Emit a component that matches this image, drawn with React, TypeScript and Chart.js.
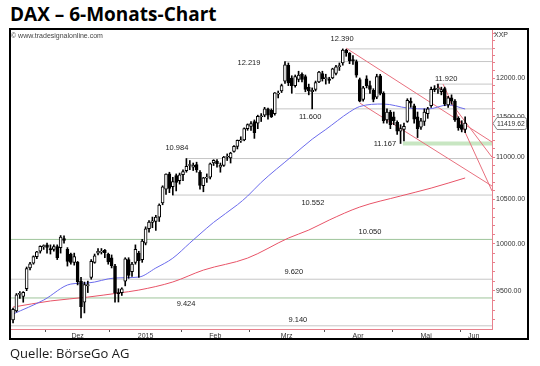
import React, { useEffect, useRef } from 'react';
import { Chart, registerables } from 'chart.js';

Chart.register(...registerables);

// ---- DAX daily candles (index 0 = 17.11.2014 ... 133 = 02.06.2015) ----
const openP = [
  9200, 9290, 9460, 9440, 9520, 9740, 9790, 9860, 9920, 9970,
  9990, 9950, 9940, 9970, 9960, 10060, 9940, 9890, 9800, 9800,
  9600, 9380, 9550, 9640, 9800, 9900, 9910, 9930, 9890, 9850,
  9760, 9480, 9480, 9600, 9830, 9700, 9800, 9900, 9830, 10010,
  10170, 10240, 10250, 10300, 10460, 10620, 10800, 10650, 10780, 10720,
  10790, 10840, 10900, 10880, 10910, 10820, 10660, 10750, 10760, 10930,
  10950, 10880, 10900, 11000, 10990, 11070, 11130, 11200, 11210, 11350,
  11380, 11440, 11420, 11500, 11520, 11600, 11580, 11540, 11790, 11830,
  11960, 12170, 12000, 11900, 11980, 12050, 12020, 11880, 11820, 11850,
  11950, 12060, 11990, 11990, 12000, 12060, 12150, 12200, 12370, 12330,
  12240, 12220, 11980, 11720, 11990, 11900, 11840, 11750, 12030, 11800,
  11460, 11560, 11500, 11430, 11320, 11340, 11440, 11700, 11640, 11500,
  11370, 11440, 11540, 11640, 11860, 11850, 11820, 11860, 11650, 11740,
  11700, 11480, 11400, 11340,
];
const highP = [
  9320, 9470, 9490, 9490, 9750, 9800, 9870, 9920, 9980, 9990,
  10010, 9990, 9990, 9990, 10093, 10090, 9960, 9900, 9900, 9810,
  9640, 9590, 9600, 9830, 9890, 9950, 9950, 9940, 9900, 9880,
  9780, 9520, 9530, 9850, 9850, 9800, 9990, 9920, 10050, 10190,
  10260, 10300, 10320, 10450, 10660, 10800, 10820, 10760, 10800, 10810,
  10850, 10984, 10960, 10930, 10940, 10840, 10760, 10800, 10930, 10970,
  10970, 10930, 11010, 11040, 11060, 11140, 11210, 11250, 11360, 11410,
  11440, 11460, 11520, 11540, 11620, 11610, 11600, 11810, 11830, 11920,
  12219, 12200, 12030, 12040, 12090, 12070, 12040, 11920, 11870, 11960,
  12090, 12090, 12050, 12010, 12130, 12170, 12200, 12390, 12385, 12340,
  12300, 12240, 12000, 11890, 12030, 11960, 11860, 12050, 12050, 11820,
  11600, 11580, 11560, 11450, 11400, 11420, 11730, 11740, 11660, 11560,
  11480, 11600, 11620, 11880, 11900, 11920, 11880, 11880, 11760, 11780,
  11720, 11500, 11450, 11500,
];
const lowP = [
  9170, 9280, 9420, 9380, 9500, 9720, 9780, 9840, 9900, 9940,
  9900, 9890, 9920, 9830, 9900, 10010, 9760, 9780, 9770, 9560,
  9219, 9270, 9480, 9620, 9790, 9880, 9890, 9850, 9780, 9740,
  9380, 9382, 9450, 9550, 9630, 9650, 9780, 9640, 9800, 9990,
  10130, 10180, 10150, 10250, 10440, 10560, 10580, 10552, 10600, 10680,
  10720, 10820, 10850, 10840, 10820, 10620, 10590, 10700, 10740, 10900,
  10880, 10820, 10890, 10960, 10930, 11060, 11100, 11180, 11200, 11330,
  11330, 11230, 11350, 11440, 11500, 11470, 11490, 11520, 11740, 11810,
  11930, 11900, 11800, 11880, 11950, 11950, 11820, 11780, 11600, 11830,
  11940, 11960, 11920, 11930, 11990, 12040, 12100, 12170, 12290, 12190,
  12180, 12010, 11690, 11700, 11870, 11800, 11690, 11730, 11780, 11420,
  11420, 11350, 11400, 11280, 11167, 11200, 11430, 11620, 11420, 11240,
  11340, 11390, 11480, 11620, 11820, 11800, 11780, 11640, 11620, 11660,
  11440, 11330, 11310, 11300,
];
const closeP = [
  9306, 9456, 9472, 9483, 9732, 9785, 9862, 9915, 9974, 9980,
  9963, 9934, 9971, 9851, 10075, 10040, 9810, 9800, 9862, 9594,
  9335, 9563, 9564, 9811, 9870, 9920, 9922, 9905, 9805, 9764,
  9473, 9469, 9518, 9837, 9660, 9781, 9941, 9817, 10032, 10167,
  10242, 10257, 10299, 10435, 10649, 10798, 10628, 10710, 10700, 10790,
  10828, 10891, 10911, 10905, 10846, 10664, 10753, 10752, 10919, 10963,
  10923, 10905, 11001, 11002, 11050, 11131, 11206, 11210, 11350, 11401,
  11413, 11300, 11504, 11510, 11600, 11520, 11500, 11806, 11799, 11901,
  12175, 11935, 11900, 12020, 12040, 11980, 11850, 11830, 11840, 11940,
  12080, 11990, 12005, 11968, 12123, 12150, 12166, 12375, 12338, 12227,
  12231, 12039, 11700, 11870, 11900, 11850, 11720, 12020, 11800, 11450,
  11560, 11400, 11450, 11320, 11350, 11380, 11710, 11674, 11470, 11350,
  11450, 11560, 11600, 11853, 11848, 11864, 11850, 11660, 11740, 11700,
  11460, 11360, 11340, 11419.62,
];
const lastValue = 11419.62;

// ---- moving averages ----
const blueMAIdx = [0, 9, 17, 22, 30, 37, 42, 47, 52, 55, 59, 66, 69, 73, 82, 88, 92, 99, 102, 109, 116, 122, 128, 133];
const blueMAVal = [9259, 9402, 9569, 9580, 9633, 9643, 9739, 9845, 10010, 10110, 10240, 10440, 10540, 10700, 11010, 11220, 11340, 11560, 11630, 11662, 11611, 11598, 11650, 11598];
const redMAIdx = [0, 11, 22, 31, 37, 47, 56, 69, 81, 87, 93, 102, 114, 123, 133];
const redMAVal = [9330, 9393, 9433, 9475, 9506, 9591, 9717, 9846, 10065, 10154, 10266, 10414, 10541, 10633, 10752];

// ---- trend lines ----
const trendStartIdx = [98, 102, 124.7, 126.5];
const trendStartVal = [12400, 11675, 11920, 11920];
const trendEndIdx = [140.9, 140.9, 140.9, 140.9];
const trendEndVal = [11185, 10657, 11000, 10600];

// ---- horizontal levels ----
const levelValues = [12390, 12219, 11920, 11796, 11600, 11167, 10984, 10552, 10050, 9620, 9424, 9140];
const levelStartIdx = [98, 80, 124.7, 83, 76.5, 114.7, 51, 47, -0.6, -0.6, -0.6, -0.6];
const levelLabels = ['12.390', '12.219', '11.920', '', '11.600', '11.167', '10.984', '10.552', '10.050', '9.620', '9.424', '9.140'];
const levelKinds = ['gray', 'gray', 'gray', 'gray', 'gray', 'band', 'gray', 'gray', 'green', 'gray', 'green', 'gray'];

// label placement (layout only)
const levelLabelIdx = [96.8, 69.4, 127.4, 0, 87.4, 109.4, 48.2, 88.2, 105, 82.6, 50.9, 83.8];
const levelLabelDy = [-10, 1.5, -4.7, 0, 8, 0.5, -11, 8, -7, -7.5, 6, -5.5];

// ---- axes ----
const monthTickIdx = [9.5, 28.5, 49.5, 69.5, 91.5, 111.5, 131.5];
const monthLabelIdx = [19, 39, 59.5, 80.5, 101.5, 121.5, 135.5];
const monthLabels = ['Dez', '2015', 'Feb', 'Mrz', 'Apr', 'Mai', 'Jun'];
const yTickValues = [9500, 10000, 10500, 11000, 11500, 12000];

const X_MIN = -0.6;
const X_MAX = 140.9;
const Y_MIN = 9108;
const Y_MAX = 12650;

const FONT = '"Liberation Sans", Arial, sans-serif';
const AXIS_RED = '#e8808c';

const overlayPlugin = {
  id: 'overlay',
  afterDatasetsDraw(chart: any) {
    const { ctx, scales } = chart;
    const x = scales.x;
    const y = scales.y;
    ctx.save();
    ctx.font = `7.5px ${FONT}`;
    ctx.fillStyle = '#222';
    ctx.textAlign = 'center';
    ctx.textBaseline = 'middle';
    levelValues.forEach((v, i) => {
      if (!levelLabels[i]) return;
      ctx.fillText(levelLabels[i], x.getPixelForValue(levelLabelIdx[i]), y.getPixelForValue(v) + levelLabelDy[i]);
    });
    ctx.restore();
  },
  afterDraw(chart: any) {
    const { ctx, scales, chartArea } = chart;
    const y = scales.y;
    ctx.save();
    ctx.font = `7px ${FONT}`;
    ctx.fillStyle = '#333';
    ctx.textAlign = 'left';
    ctx.textBaseline = 'middle';
    ctx.fillText('XXP', chartArea.right + 2, chartArea.top + 5);
    // last value box
    const yy = Math.round(y.getPixelForValue(lastValue)) + 0.5;
    const l = chartArea.right + 1;
    const r = chartArea.right + 34.5;
    ctx.beginPath();
    ctx.moveTo(l, yy);
    ctx.lineTo(l + 4, yy - 6);
    ctx.lineTo(r - 2, yy - 6);
    ctx.quadraticCurveTo(r, yy - 6, r, yy - 4);
    ctx.lineTo(r, yy + 4);
    ctx.quadraticCurveTo(r, yy + 6, r - 2, yy + 6);
    ctx.lineTo(l + 4, yy + 6);
    ctx.closePath();
    ctx.fillStyle = '#fff';
    ctx.fill();
    ctx.strokeStyle = '#888';
    ctx.lineWidth = 1;
    ctx.stroke();
    ctx.fillStyle = '#333';
    ctx.font = `6.8px ${FONT}`;
    ctx.fillText(lastValue.toFixed(2), l + 4, yy + 0.5);
    ctx.restore();
  },
};

export default function App() {
  const ref = useRef<HTMLCanvasElement>(null);

  useEffect(() => {
    const canvas = ref.current;
    if (!canvas) return;

    const bodies = closeP.map((c, i) => ({ x: i, y: [Math.min(openP[i], c), Math.max(openP[i], c)] }));
    const wicks = closeP.map((_, i) => ({ x: i, y: [lowP[i], highP[i]] }));
    const bodyColors = closeP.map((c, i) => (c >= openP[i] ? '#ffffff' : '#000000'));

    const levelColor: Record<string, string> = { gray: '#c6c6c6', green: '#9ec49a', band: '#c8e6c2' };
    const levelDatasets = levelValues.map((v, i) => ({
      type: 'line' as const,
      data: [{ x: levelStartIdx[i], y: v }, { x: X_MAX, y: v }],
      borderColor: levelColor[levelKinds[i]],
      borderWidth: levelKinds[i] === 'band' ? 4 : 1,
      pointRadius: 0,
      order: 10,
    }));
    const trendDatasets = trendStartIdx.map((s, i) => ({
      type: 'line' as const,
      data: [{ x: s, y: trendStartVal[i] }, { x: trendEndIdx[i], y: trendEndVal[i] }],
      borderColor: '#e8707e',
      borderWidth: 1,
      pointRadius: 0,
      order: 9,
    }));
    const blueDs = {
      type: 'line' as const,
      data: blueMAIdx.map((xi, i) => ({ x: xi, y: blueMAVal[i] })),
      borderColor: '#6b6bec',
      borderWidth: 1,
      pointRadius: 0,
      cubicInterpolationMode: 'monotone' as const,
      order: 8,
    };
    const redDs = {
      type: 'line' as const,
      data: redMAIdx.map((xi, i) => ({ x: xi, y: redMAVal[i] })),
      borderColor: '#e85468',
      borderWidth: 1,
      pointRadius: 0,
      cubicInterpolationMode: 'monotone' as const,
      order: 8,
    };
    const wickDs = {
      type: 'bar' as const,
      data: wicks,
      backgroundColor: '#000',
      borderWidth: 0,
      barThickness: 1,
      grouped: false,
      order: 2,
    };
    const bodyDs = {
      type: 'bar' as const,
      data: bodies,
      backgroundColor: bodyColors,
      borderColor: '#000',
      borderWidth: 1,
      borderSkipped: false,
      barThickness: 3,
      minBarLength: 1,
      grouped: false,
      order: 1,
    };

    const chart = new Chart(canvas, {
      type: 'bar',
      data: { datasets: [...levelDatasets, ...trendDatasets, blueDs, redDs, wickDs, bodyDs] as any },
      options: {
        animation: false,
        responsive: false,
        maintainAspectRatio: false,
        devicePixelRatio: 1,
        events: [],
        layout: { padding: { left: 11, top: 30, right: 12, bottom: 27 } },
        plugins: { legend: { display: false }, tooltip: { enabled: false }, title: { display: false } },
        scales: {
          x: {
            type: 'linear',
            min: X_MIN,
            max: X_MAX,
            offset: false,
            afterFit: (s: any) => { s.height = 10; },
            afterBuildTicks: (s: any) => {
              s.ticks = [...monthTickIdx, ...monthLabelIdx].sort((a, b) => a - b).map((v) => ({ value: v }));
            },
            ticks: {
              autoSkip: false,
              maxRotation: 0,
              padding: 0,
              color: '#333',
              font: { family: FONT, size: 7 },
              callback: (v: any) => {
                const k = monthLabelIdx.indexOf(Number(v));
                return k >= 0 ? monthLabels[k] : '';
              },
            },
            grid: {
              drawOnChartArea: false,
              drawTicks: true,
              offset: false,
              tickLength: 3,
              tickColor: (c: any) => (c.tick && monthTickIdx.includes(c.tick.value) ? '#555' : 'rgba(0,0,0,0)'),
            },
            border: { display: true, color: AXIS_RED, width: 1 },
          },
          y: {
            type: 'logarithmic',
            position: 'right',
            min: Y_MIN,
            max: Y_MAX,
            afterFit: (s: any) => { s.width = 36; },
            afterBuildTicks: (s: any) => {
              const t: any[] = [];
              for (let v = 9200; v <= 12600; v += 100) t.push({ value: v });
              s.ticks = t;
            },
            ticks: {
              autoSkip: false,
              padding: 1,
              color: '#333',
              font: { family: FONT, size: 7 },
              callback: (v: any) => (yTickValues.includes(Number(v)) ? Number(v).toFixed(2) : ''),
            },
            grid: {
              drawOnChartArea: false,
              drawTicks: true,
              tickLength: 3,
              tickColor: AXIS_RED,
            },
            border: { display: true, color: AXIS_RED, width: 1 },
          },
        },
      },
      plugins: [overlayPlugin],
    });
    return () => chart.destroy();
  }, []);

  return (
    <div style={{ position: 'absolute', left: 0, top: 0, width: 540, height: 366, background: '#fff', overflow: 'hidden' }}>
      <div
        style={{
          position: 'absolute', left: 10, top: 5, fontFamily: '"Open Sans", sans-serif', fontWeight: 700,
          fontSize: 19, lineHeight: '19px', whiteSpace: 'nowrap', color: '#000',
        }}
      >
        DAX – 6-Monats-Chart
      </div>
      <canvas ref={ref} width={540} height={366} style={{ position: 'absolute', left: 0, top: 0, width: 540, height: 366 }} />
      <div
        style={{
          position: 'absolute', left: 9, top: 28, width: 520, height: 312, border: '2px solid #000',
          boxSizing: 'border-box', pointerEvents: 'none',
        }}
      />
      <div
        style={{
          position: 'absolute', left: 11, top: 31.5, fontFamily: FONT, fontSize: 7, lineHeight: '7px',
          color: '#444', whiteSpace: 'nowrap',
        }}
      >
        © www.tradesignalonline.com
      </div>
      <div
        style={{
          position: 'absolute', left: 10, top: 346.5, fontFamily: '"Open Sans", sans-serif', fontSize: 13,
          lineHeight: '13px', color: '#1a1a1a', whiteSpace: 'nowrap',
        }}
      >
        Quelle: BörseGo AG
      </div>
    </div>
  );
}
